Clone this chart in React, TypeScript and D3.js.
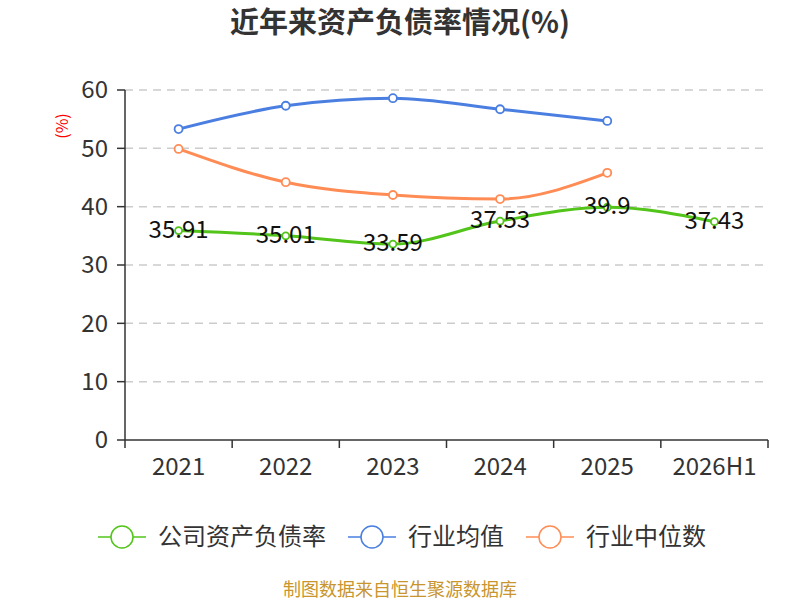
import React from "react";
import * as d3 from "d3";

const categories = ["2021", "2022", "2023", "2024", "2025", "2026H1"];
const companyRate = [35.91, 35.01, 33.59, 37.53, 39.9, 37.43];
const industryAvg = [53.3, 57.3, 58.6, 56.7, 54.7, null];
const industryMedian = [49.9, 44.2, 42.0, 41.3, 45.8, null];
const yTicks = [0, 10, 20, 30, 40, 50, 60];

const FONT = "'Noto Sans CJK SC', 'Noto Sans', sans-serif";
const GREEN = "#52c41a";
const BLUE = "#4a7ee0";
const ORANGE = "#ff8c55";

export default function App() {
  const W = 800, H = 600;
  const left = 125, right = 768, top = 90, bottom = 440;
  const x = d3.scaleBand<string>().domain(categories).range([left, right]);
  const y = d3.scaleLinear().domain([0, 60]).range([bottom, top]);
  const cx = (c: string) => (x(c) as number) + x.bandwidth() / 2;

  const mk = (vals: (number | null)[]) =>
    d3
      .line<number | null>()
      .defined((d) => d !== null)
      .x((_, i) => cx(categories[i]))
      .y((d) => y(d as number))
      .curve(d3.curveMonotoneX)(vals) || "";

  const series = [
    { vals: industryAvg, color: BLUE, r: 4 },
    { vals: industryMedian, color: ORANGE, r: 4 },
    { vals: companyRate, color: GREEN, r: 3.5 },
  ];

  const legend = [
    { name: "公司资产负债率", color: GREEN, x: 98 },
    { name: "行业均值", color: BLUE, x: 348 },
    { name: "行业中位数", color: ORANGE, x: 526 },
  ];

  return (
    <svg width={W} height={H} style={{ position: "absolute", left: 0, top: 0 }} fontFamily={FONT}>
      <rect width={W} height={H} fill="#fff" />
      <text x={400} y={33} textAnchor="middle" fontSize={29} fontWeight="bold" fill="#333">
        近年来资产负债率情况(%)
      </text>
      <text
        transform={`translate(68,126) rotate(-90)`}
        textAnchor="middle"
        fontSize={16}
        fill="#ff0000"
      >
        (%)
      </text>
      {yTicks.map((t) => (
        <g key={t}>
          {t > 0 && (
            <line x1={left} x2={right} y1={y(t)} y2={y(t)} stroke="#ccc" strokeDasharray="8,6" strokeWidth={1.5} />
          )}
          <line x1={left - 8} x2={left} y1={y(t)} y2={y(t)} stroke="#333" strokeWidth={1.5} />
          <text x={left - 17} y={y(t)} dy="0.35em" textAnchor="end" fontSize={24} fill="#333">
            {t}
          </text>
        </g>
      ))}
      <line x1={left} x2={left} y1={top} y2={bottom} stroke="#333" strokeWidth={1.5} />
      <line x1={left} x2={right} y1={bottom} y2={bottom} stroke="#333" strokeWidth={1.5} />
      {categories.map((c, i) => (
        <g key={c}>
          <line x1={x(c) as number} x2={x(c) as number} y1={bottom} y2={bottom + 8} stroke="#333" strokeWidth={1.5} />
          {i === categories.length - 1 && (
            <line x1={right} x2={right} y1={bottom} y2={bottom + 8} stroke="#333" strokeWidth={1.5} />
          )}
          <text x={cx(c)} y={475} textAnchor="middle" fontSize={24} fill="#333">
            {c}
          </text>
        </g>
      ))}
      {series.map((s, si) => (
        <g key={si}>
          <path d={mk(s.vals)} fill="none" stroke={s.color} strokeWidth={3} />
          {s.vals.map((v, i) =>
            v === null ? null : (
              <circle key={i} cx={cx(categories[i])} cy={y(v)} r={s.r} fill="#fff" stroke={s.color} strokeWidth={1.8} />
            )
          )}
        </g>
      ))}
      {companyRate.map((v, i) => (
        <text key={i} x={cx(categories[i])} y={y(v) + 7} textAnchor="middle" fontSize={24} fill="#111">
          {v}
        </text>
      ))}
      {legend.map((l) => (
        <g key={l.name}>
          <line x1={l.x} x2={l.x + 48} y1={537} y2={537} stroke={l.color} strokeWidth={1.5} />
          <circle cx={l.x + 24} cy={537} r={11} fill="#fff" stroke={l.color} strokeWidth={1.5} />
          <text x={l.x + 60} y={537} dy="0.35em" fontSize={24} fill="#333">
            {l.name}
          </text>
        </g>
      ))}
      <text x={400} y={596} textAnchor="middle" fontSize={18} fill="#c8952e">
        制图数据来自恒生聚源数据库
      </text>
    </svg>
  );
}
